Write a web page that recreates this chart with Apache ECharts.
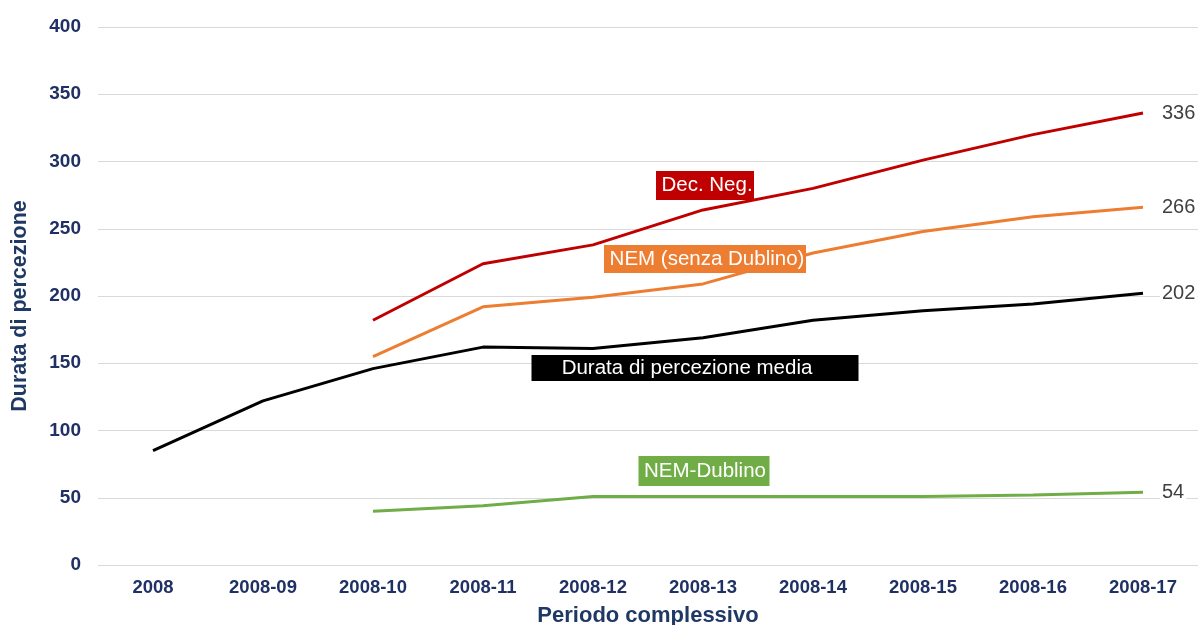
<!DOCTYPE html>
<html><head><meta charset="utf-8">
<script src="https://cdn.jsdelivr.net/npm/echarts@6/dist/echarts.min.js"></script>
<style>html,body{margin:0;padding:0;background:#fff}#c{width:1198px;height:625px}</style>
</head><body><div id="c"></div>
<script>
const categories = ['2008','2008-09','2008-10','2008-11','2008-12','2008-13','2008-14','2008-15','2008-16','2008-17'];
const media = [85, 122, 146, 162, 161, 169, 182, 189, 194, 202];
const decNeg = [null, null, 182, 224, 238, 264, 280, 301, 320, 336];
const nemSenza = [null, null, 155, 192, 199, 209, 232, 248, 259, 266];
const nemDublino = [null, null, 40, 44, 51, 51, 51, 51, 52, 54];
const yTicks = [0, 50, 100, 150, 200, 250, 300, 350, 400];

const navy = '#1F3064';
function tag(name, coord, bg, offset, size){
  return {silent:true, data:[{coord:coord, value:name, symbol:'rect', symbolSize:size, symbolOffset:offset,
    itemStyle:{color:bg},
    label:{show:true, position:'inside', offset:offset, formatter:name, color:'#fff', fontFamily:'Liberation Sans', fontSize:20.5}}]};
}
function mk(name, data, color, mp){
  return {name, type:'line', data, connectNulls:false, symbol:'none', smooth:false,
    lineStyle:{color, width:3}, itemStyle:{color},
    endLabel:{show:true, distance:17, fontFamily:'Liberation Sans', fontSize:20, color:'#404040',
      backgroundColor:'#fff', padding:[2,2], formatter:(p)=>String(p.value)},
    markPoint:mp, z:3};
}
const chart = echarts.init(document.getElementById('c'));
chart.setOption({
  animation:false,
  grid:{left:98, right:0, top:27, bottom:60, containLabel:false, outerBoundsMode:'none'},
  xAxis:{type:'category', data:categories, boundaryGap:true,
    axisLine:{show:false}, axisTick:{show:false},
    axisLabel:{color:navy, fontFamily:'Liberation Sans', fontWeight:'bold', fontSize:18.5, margin:13},
    name:'Periodo complessivo', nameLocation:'middle', nameGap:40,
    nameTextStyle:{color:'#1F3864', fontFamily:'Liberation Sans', fontWeight:'bold', fontSize:22}},
  yAxis:{type:'value', min:yTicks[0], max:yTicks[yTicks.length-1], interval:50,
    axisLine:{show:false}, axisTick:{show:false},
    splitLine:{lineStyle:{color:'#d9d9d9', width:1}},
    axisLabel:{color:navy, fontFamily:'Liberation Sans', fontWeight:'bold', fontSize:19, margin:17},
    name:'Durata di percezione', nameLocation:'middle', nameGap:67, nameRotate:90,
    nameTextStyle:{color:'#1F3864', fontFamily:'Liberation Sans', fontWeight:'bold', fontSize:21.5, padding:[0,20,0,0]}},
  series:[
    mk('Durata di percezione media', media, '#000000', tag('Durata di percezione media', ['2008-13', 146.5], '#000000', [-8,0], [327,26])),
    mk('Dec. Neg.', decNeg, '#C00000', tag('Dec. Neg.', ['2008-13', 282.2], '#C00000', [2,0], [98,29])),
    mk('NEM (senza Dublino)', nemSenza, '#ED7D31', tag('NEM (senza Dublino)', ['2008-13', 227.5], '#ED7D31', [2,0], [202,28])),
    mk('NEM-Dublino', nemDublino, '#70AD47', tag('NEM-Dublino', ['2008-13', 69.9], '#70AD47', [1,0], [131,30]))
  ]
});
</script></body></html>
